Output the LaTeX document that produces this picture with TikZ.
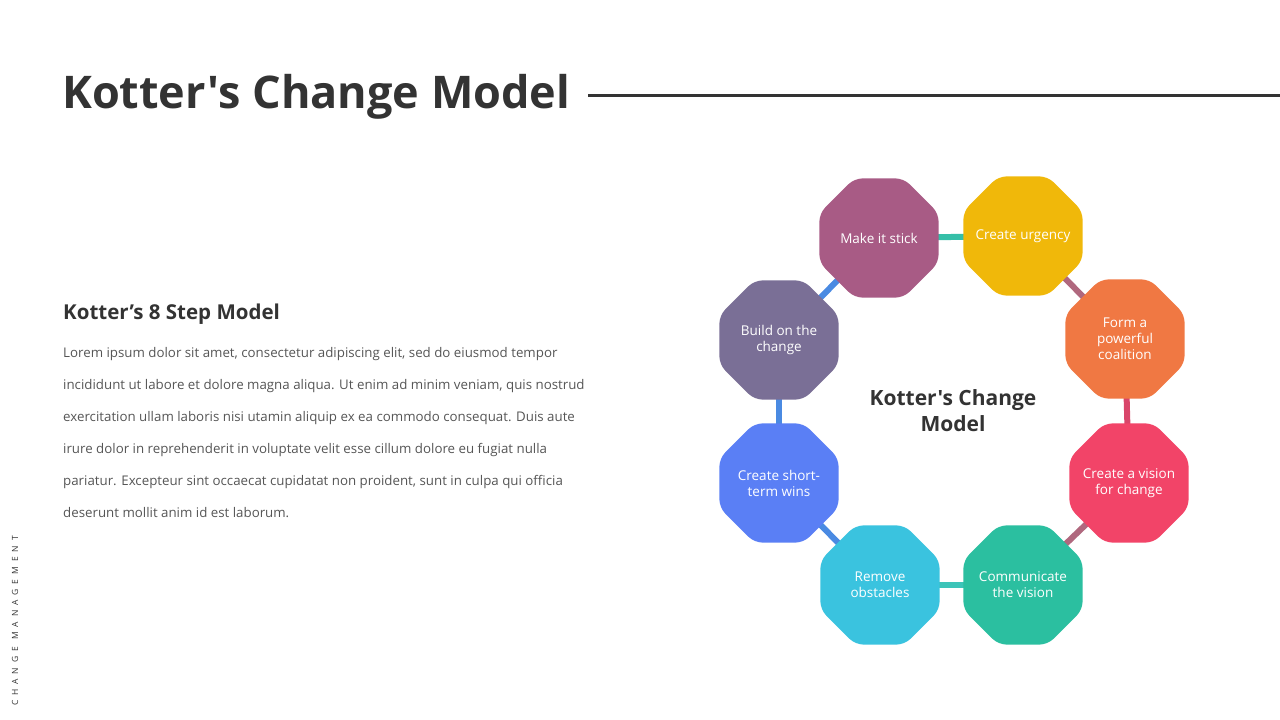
\documentclass[tikz,border=0pt]{standalone}
\usepackage{fontspec}
\setmainfont{Open Sans}[Ligatures=TeXOff]
\usetikzlibrary{positioning,shapes.geometric,backgrounds}
\definecolor{inkDark}{RGB}{51,51,51}
\definecolor{inkBody}{RGB}{85,85,85}
\definecolor{stepStick}{RGB}{168,91,133}
\definecolor{stepUrgency}{RGB}{240,184,10}
\definecolor{stepCoalition}{RGB}{240,120,67}
\definecolor{stepVision}{RGB}{242,68,104}
\definecolor{stepCommunicate}{RGB}{43,191,160}
\definecolor{stepObstacles}{RGB}{58,195,223}
\definecolor{stepWins}{RGB}{90,127,245}
\definecolor{stepBuild}{RGB}{122,111,150}
\definecolor{linkTeal}{RGB}{53,191,168}
\definecolor{linkMauve}{RGB}{176,104,126}
\definecolor{linkRose}{RGB}{217,69,106}
\definecolor{linkCyan}{RGB}{60,196,184}
\definecolor{linkBlue}{RGB}{74,138,226}

\begin{document}
\begin{tikzpicture}[
    x=1pt, y=-1pt,
    octo/.style={
        regular polygon,
        regular polygon sides=8,
        minimum size=129pt,
        inner sep=-16pt,
        outer sep=0pt,
        rounded corners=8pt,
        align=center,
        text=white,
        font=\fontsize{13.5}{16}\selectfont
    },
    link/.style={
        line width=6pt
    }
]
    \useasboundingbox (0,0) rectangle (1280,720);

    % ---------------------------------------------------------
    % HEADER
    % ---------------------------------------------------------
    \node[anchor=base west, inner sep=0pt, text=inkDark,
          font=\fontsize{45}{50}\selectfont\bfseries] (title) at (62,108) {Kotter's Change Model};
    \coordinate (ruleend) at (1280,95);
    \draw[inkDark, line width=3pt] (588,95) -- (ruleend);

    % ---------------------------------------------------------
    % LEFT: DESCRIPTION
    % ---------------------------------------------------------
    \node[anchor=base west, inner sep=0pt, text=inkDark,
          font=\fontsize{20.5}{24}\selectfont\bfseries] (subtitle) at (63,319) {Kotter’s 8 Step Model};
    \node[anchor=north west, inner sep=0pt, text=inkBody, align=left,
          font=\fontsize{13.3}{32}\selectfont] (body) at (63,347)
        {Lorem ipsum dolor sit amet, consectetur adipiscing elit, sed do eiusmod tempor\\
         incididunt ut labore et dolore magna aliqua. Ut enim ad minim veniam, quis nostrud\\
         exercitation ullam laboris nisi utamin aliquip ex ea commodo consequat. Duis aute\\
         irure dolor in reprehenderit in voluptate velit esse cillum dolore eu fugiat nulla\\
         pariatur. Excepteur sint occaecat cupidatat non proident, sunt in culpa qui officia\\
         deserunt mollit anim id est laborum.};

    % side tag
    \node[rotate=90, anchor=west, inner sep=0pt, text=inkDark,
          font=\fontsize{8.5}{8}\selectfont\addfontfeature{LetterSpace=58}] (tag) at (15,706) {CHANGE MANAGEMENT};

    % ---------------------------------------------------------
    % RIGHT: THE EIGHT STEPS
    % ---------------------------------------------------------
    \node[octo, fill=stepStick] (stick) at (879,238) {Make it stick};
    \node[octo, fill=stepUrgency] (urgency) at (1023,236) {Create urgency};
    \node[octo, fill=stepCoalition] (coalition) at (1125,339) {Form a\\powerful\\coalition};
    \node[octo, fill=stepVision] (vision) at (1129,483) {Create a vision\\for change};
    \node[octo, fill=stepCommunicate] (communicate) at (1023,585) {Communicate\\the vision};
    \node[octo, fill=stepObstacles] (obstacles) at (880,585) {Remove\\obstacles};
    \node[octo, fill=stepWins] (wins) at (779,483) {Create short-\\term wins};
    \node[octo, fill=stepBuild] (build) at (779,340) {Build on the\\change};

    % centre label
    \node[align=center, text=inkDark, font=\fontsize{21}{26}\selectfont\bfseries] (centre) at (953,411) {Kotter's Change\\Model};

    % ---------------------------------------------------------
    % LINKS
    % ---------------------------------------------------------
    \begin{scope}[on background layer]
        \draw[link, linkTeal] (stick.center) -- (urgency.center);
        \draw[link, linkMauve] (urgency.center) -- (coalition.center);
        \draw[link, linkRose] (coalition.center) -- (vision.center);
        \draw[link, linkMauve] (vision.center) -- (communicate.center);
        \draw[link, linkCyan] (communicate.center) -- (obstacles.center);
        \draw[link, linkBlue] (obstacles.center) -- (wins.center);
        \draw[link, linkBlue] (wins.center) -- (build.center);
        \draw[link, linkBlue] (build.center) -- (stick.center);
    \end{scope}

\end{tikzpicture}
\end{document}
